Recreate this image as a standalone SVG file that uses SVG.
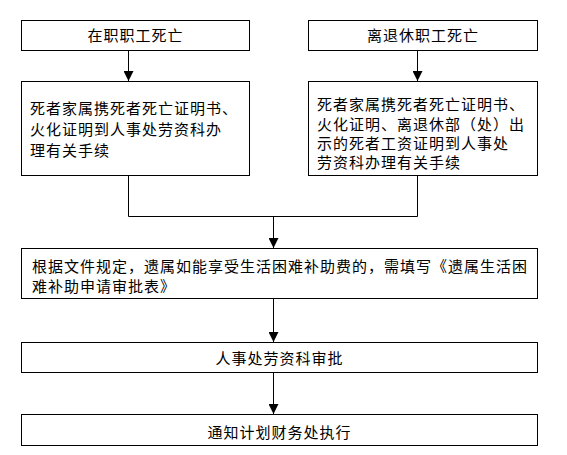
<svg xmlns="http://www.w3.org/2000/svg" width="567" height="455" viewBox="0 0 567 455">
<style>
.box{fill:#fff;stroke:#000;stroke-width:1}
.t{font-family:"Noto Sans CJK SC","Liberation Sans",sans-serif;font-size:15px;letter-spacing:1px;fill:#000}
.c{text-anchor:middle}
.ln{fill:none;stroke:#000;stroke-width:1}
</style>
<defs>
<marker id="ah" markerUnits="userSpaceOnUse" markerWidth="10" markerHeight="11" refX="5" refY="10" orient="auto-start-reverse" viewBox="0 0 10 11">
<path d="M0,0 L10,0 L5,10 Z" fill="#000" transform="rotate(-90 5 5)"/>
</marker>
<marker id="a" markerUnits="userSpaceOnUse" markerWidth="10" markerHeight="10" refX="10" refY="5" orient="auto" viewBox="0 0 10 10">
<path d="M0,0 L10,5 L0,10 Z" fill="#000"/>
</marker>
</defs>
<g id="connectors">
<line class="ln" x1="128.5" y1="50" x2="128.5" y2="81" marker-end="url(#a)"/>
<line class="ln" x1="417.5" y1="50" x2="417.5" y2="81" marker-end="url(#a)"/>
<polyline class="ln" points="128.5,175 128.5,216.5 417.5,216.5 417.5,175"/>
<line class="ln" x1="273.5" y1="216.5" x2="273.5" y2="248" marker-end="url(#a)"/>
<line class="ln" x1="273.5" y1="299" x2="273.5" y2="342" marker-end="url(#a)"/>
<line class="ln" x1="273.5" y1="372" x2="273.5" y2="414" marker-end="url(#a)"/>
</g>
<g id="n1">
<rect class="box" x="21.5" y="20.5" width="228" height="30"/>
<text class="t c" x="135.5" y="41">在职职工死亡</text>
</g>
<g id="n2">
<rect class="box" x="308.5" y="20.5" width="229" height="30"/>
<text class="t c" x="423" y="41">离退休职工死亡</text>
</g>
<g id="n3">
<rect class="box" x="21.5" y="81.5" width="228" height="94"/>
<text class="t" x="30" y="114">死者家属携死者死亡证明书、</text>
<text class="t" x="30" y="135">火化证明到人事处劳资科办</text>
<text class="t" x="30" y="155.5">理有关手续</text>
</g>
<g id="n4">
<rect class="box" x="308.5" y="81.5" width="229" height="94"/>
<text class="t" x="317" y="109.5">死者家属携死者死亡证明书、</text>
<text class="t" x="317" y="130">火化证明、离退休部（处）出</text>
<text class="t" x="317" y="149">示的死者工资证明到人事处</text>
<text class="t" x="317" y="168">劳资科办理有关手续</text>
</g>
<g id="n5">
<rect class="box" x="21.5" y="248.5" width="516" height="50"/>
<text class="t" x="32" y="272">根据文件规定，遗属如能享受生活困难补助费的，需填写《遗属生活困</text>
<text class="t" x="32" y="292">难补助申请审批表》</text>
</g>
<g id="n6">
<rect class="box" x="21.5" y="342.5" width="516" height="30"/>
<text class="t c" x="279.5" y="364">人事处劳资科审批</text>
</g>
<g id="n7">
<rect class="box" x="21.5" y="414.5" width="516" height="31"/>
<text class="t c" x="279.5" y="438">通知计划财务处执行</text>
</g>
</svg>
